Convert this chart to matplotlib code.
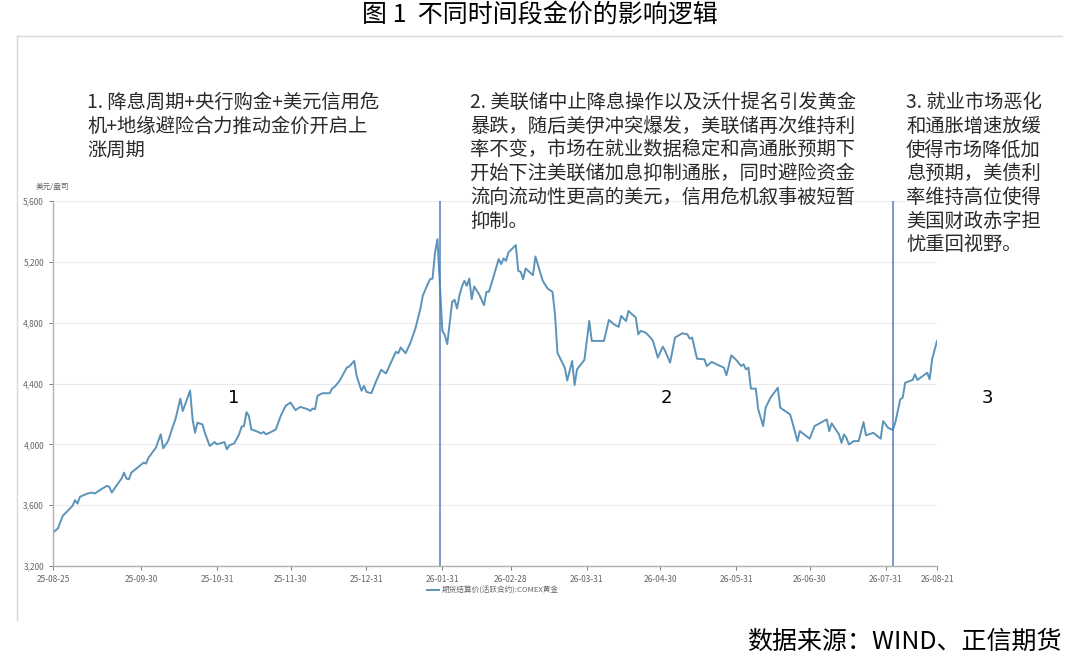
import matplotlib
matplotlib.use("Agg")
import matplotlib.pyplot as plt
import matplotlib.dates as mdates
from matplotlib.lines import Line2D
from matplotlib.ticker import FuncFormatter
import pandas as pd

plt.rcParams["font.family"] = ["Noto Sans CJK SC", "DejaVu Sans"]

TITLE = "图 1  不同时间段金价的影响逻辑"
SOURCE = "数据来源：WIND、正信期货"
SERIES_NAME = "期货结算价(活跃合约):COMEX黄金"
UNIT = "美元/盎司"

NOTE_1 = "1. 降息周期+央行购金+美元信用危\n机+地缘避险合力推动金价开启上\n涨周期"
NOTE_2 = ("2. 美联储中止降息操作以及沃什提名引发黄金\n"
          "暴跌，随后美伊冲突爆发，美联储再次维持利\n"
          "率不变，市场在就业数据稳定和高通胀预期下\n"
          "开始下注美联储加息抑制通胀，同时避险资金\n"
          "流向流动性更高的美元，信用危机叙事被短暂\n"
          "抑制。")
NOTE_3 = ("3. 就业市场恶化\n和通胀增速放缓\n使得市场降低加\n息预期，美债利\n"
          "率维持高位使得\n美国财政赤字担\n忧重回视野。")

# COMEX gold settlement
DATES = [
    "2025-08-25", "2025-08-27", "2025-08-29", "2025-08-31", "2025-09-02", "2025-09-03",
    "2025-09-04", "2025-09-05", "2025-09-08", "2025-09-10", "2025-09-11", "2025-09-13",
    "2025-09-16", "2025-09-17", "2025-09-18", "2025-09-20", "2025-09-22", "2025-09-23",
    "2025-09-24", "2025-09-25", "2025-09-26", "2025-09-28", "2025-10-01", "2025-10-02",
    "2025-10-03", "2025-10-06", "2025-10-08", "2025-10-09", "2025-10-11", "2025-10-13",
    "2025-10-14", "2025-10-16", "2025-10-17", "2025-10-20", "2025-10-21", "2025-10-22",
    "2025-10-23", "2025-10-25", "2025-10-26", "2025-10-28", "2025-10-30", "2025-10-31",
    "2025-11-03", "2025-11-04", "2025-11-05", "2025-11-07", "2025-11-09", "2025-11-10",
    "2025-11-11", "2025-11-12", "2025-11-13", "2025-11-14", "2025-11-16", "2025-11-18",
    "2025-11-19", "2025-11-20", "2025-11-22", "2025-11-24", "2025-11-26", "2025-11-28",
    "2025-11-30", "2025-12-02", "2025-12-04", "2025-12-07", "2025-12-08", "2025-12-09",
    "2025-12-10", "2025-12-11", "2025-12-13", "2025-12-16", "2025-12-17", "2025-12-18",
    "2025-12-20", "2025-12-23", "2025-12-24", "2025-12-26", "2025-12-27", "2025-12-29",
    "2025-12-30", "2025-12-31", "2026-01-02", "2026-01-04", "2026-01-06", "2026-01-08",
    "2026-01-10", "2026-01-12", "2026-01-13", "2026-01-14", "2026-01-16", "2026-01-18",
    "2026-01-20", "2026-01-22", "2026-01-23", "2026-01-25", "2026-01-26", "2026-01-27",
    "2026-01-28", "2026-01-29", "2026-01-31", "2026-02-01", "2026-02-02", "2026-02-04",
    "2026-02-05", "2026-02-06", "2026-02-07", "2026-02-08", "2026-02-09", "2026-02-10",
    "2026-02-11", "2026-02-12", "2026-02-13", "2026-02-15", "2026-02-17", "2026-02-18",
    "2026-02-19", "2026-02-21", "2026-02-23", "2026-02-24", "2026-02-25", "2026-02-26",
    "2026-02-27", "2026-03-02", "2026-03-03", "2026-03-04", "2026-03-05", "2026-03-06",
    "2026-03-09", "2026-03-10", "2026-03-13", "2026-03-15", "2026-03-17", "2026-03-18",
    "2026-03-19", "2026-03-22", "2026-03-23", "2026-03-25", "2026-03-26", "2026-03-27",
    "2026-03-30", "2026-04-01", "2026-04-02", "2026-04-07", "2026-04-09", "2026-04-11",
    "2026-04-13", "2026-04-14", "2026-04-16", "2026-04-17", "2026-04-20", "2026-04-21",
    "2026-04-22", "2026-04-24", "2026-04-26", "2026-04-27", "2026-04-29", "2026-05-01",
    "2026-05-02", "2026-05-04", "2026-05-06", "2026-05-09", "2026-05-11", "2026-05-12",
    "2026-05-13", "2026-05-15", "2026-05-18", "2026-05-19", "2026-05-21", "2026-05-23",
    "2026-05-26", "2026-05-27", "2026-05-29", "2026-05-31", "2026-06-02", "2026-06-03",
    "2026-06-04", "2026-06-05", "2026-06-06", "2026-06-08", "2026-06-09", "2026-06-11",
    "2026-06-12", "2026-06-14", "2026-06-16", "2026-06-17", "2026-06-18", "2026-06-22",
    "2026-06-23", "2026-06-25", "2026-06-26", "2026-06-30", "2026-07-02", "2026-07-07",
    "2026-07-08", "2026-07-09", "2026-07-12", "2026-07-13", "2026-07-14", "2026-07-15",
    "2026-07-16", "2026-07-18", "2026-07-20", "2026-07-22", "2026-07-23", "2026-07-26",
    "2026-07-29", "2026-07-30", "2026-08-01", "2026-08-03", "2026-08-04", "2026-08-06",
    "2026-08-07", "2026-08-08", "2026-08-11", "2026-08-12", "2026-08-13", "2026-08-17",
    "2026-08-18", "2026-08-19", "2026-08-21",
]
PRICES = [
    3420, 3447, 3530, 3563, 3596, 3633,
    3611, 3655, 3676, 3683, 3676, 3698,
    3727, 3720, 3683, 3731, 3775, 3814,
    3775, 3770, 3814, 3840, 3880, 3873,
    3912, 3978, 4066, 3974, 4022, 4120,
    4164, 4300, 4219, 4354, 4164, 4076,
    4142, 4131, 4076, 3989, 4015, 4000,
    4015, 3967, 3993, 4006, 4066, 4116,
    4120, 4212, 4186, 4098, 4087, 4072,
    4081, 4066, 4081, 4098, 4187, 4253,
    4275, 4225, 4246, 4231, 4220, 4235,
    4231, 4319, 4336, 4336, 4367, 4378,
    4417, 4505, 4512, 4549, 4450, 4352,
    4385, 4345, 4336, 4417, 4490, 4466,
    4538, 4608, 4599, 4637, 4599, 4670,
    4762, 4889, 4976, 5053, 5086, 5090,
    5261, 5349, 4746, 4718, 4659, 4937,
    4950, 4893, 4981, 5038, 5075, 5042,
    5090, 4954, 5038, 4987, 4915, 5003,
    5003, 5108, 5218, 5185, 5222, 5207,
    5262, 5310, 5141, 5134, 5086, 5156,
    5112, 5235, 5075, 5024, 5002, 4855,
    4602, 4503, 4420, 4548, 4390, 4493,
    4555, 4811, 4680, 4680, 4818, 4790,
    4772, 4844, 4811, 4877, 4833, 4724,
    4746, 4735, 4702, 4680, 4570, 4642,
    4614, 4537, 4702, 4730, 4724, 4695,
    4702, 4563, 4559, 4515, 4542, 4526,
    4504, 4454, 4585, 4555, 4515, 4526,
    4493, 4504, 4366, 4366, 4230, 4120,
    4241, 4307, 4350, 4372, 4241, 4197,
    4142, 4021, 4087, 4037, 4120, 4164,
    4087, 4138, 4065, 4010, 4065, 4043,
    3999, 4021, 4021, 4146, 4059, 4076,
    4037, 4153, 4109, 4094, 4146, 4296,
    4307, 4405, 4423, 4460, 4423, 4471,
    4427, 4559, 4680,
]

X_TICKS = ["2025-08-25", "2025-09-30", "2025-10-31", "2025-11-30", "2025-12-31",
           "2026-01-31", "2026-02-28", "2026-03-31", "2026-04-30", "2026-05-31",
           "2026-06-30", "2026-07-31", "2026-08-21"]
Y_TICKS = [3200, 3600, 4000, 4400, 4800, 5200, 5600]
PHASE_BREAKS = ["2026-01-30", "2026-08-03"]

LINE_COLOR = "#5b93b9"
BREAK_COLOR = "#4f7fc4"
TICK_GRAY = "#666666"

dates = pd.to_datetime(DATES)

fig = plt.figure(figsize=(10.8, 6.63), dpi=100)
ax = fig.add_axes([53 / 1080, 1 - 566 / 663, 884 / 1080, 365 / 663])

line, = ax.plot(dates, PRICES, color=LINE_COLOR, linewidth=1.4)
for d in PHASE_BREAKS:
    ax.axvline(pd.Timestamp(d), color=BREAK_COLOR, linewidth=1.1)

ax.set_xlim(pd.Timestamp("2025-08-25"), pd.Timestamp("2026-08-21"))
ax.set_ylim(3200, 5600)
ax.set_yticks(Y_TICKS)
ax.yaxis.set_major_formatter(FuncFormatter(lambda v, _: f"{v:,.0f}"))
ax.set_xticks(pd.to_datetime(X_TICKS))
ax.xaxis.set_major_formatter(mdates.DateFormatter("%y-%m-%d"))
ax.tick_params(axis="both", labelsize=6, colors=TICK_GRAY, length=3, width=0.6)
ax.grid(True, axis="y", color="#ebebeb", linewidth=0.8)
ax.set_axisbelow(True)
for side in ("top", "right"):
    ax.spines[side].set_visible(False)
for side in ("left", "bottom"):
    ax.spines[side].set_color("#b0b0b0")
    ax.spines[side].set_linewidth(1.0)

fig.text(36 / 1080, 1 - 187 / 663, UNIT, fontsize=5.5, color=TICK_GRAY, va="center")

leg = fig.legend([line], [SERIES_NAME], loc="center", bbox_to_anchor=(493 / 1080, 1 - 591 / 663),
                 frameon=False, fontsize=5.5, handlelength=1.6, handletextpad=0.4)
for t in leg.get_texts():
    t.set_color(TICK_GRAY)

# outer frame
fig.add_artist(Line2D([17 / 1080, 1062 / 1080], [1 - 36 / 663] * 2, color="#d9d9d9", lw=1.0))
fig.add_artist(Line2D([17 / 1080] * 2, [1 - 36 / 663, 1 - 620 / 663], color="#d9d9d9", lw=1.0))

fig.text(0.5, 1 - 16 / 663, TITLE, fontsize=18, ha="center", va="center", color="black")

note_kw = dict(fontsize=13.9, va="top", ha="left", color="#2a2a2a", linespacing=1.17)
fig.text(87 / 1080, 1 - 92 / 663, NOTE_1, **note_kw)
fig.text(470 / 1080, 1 - 92 / 663, NOTE_2, **note_kw)
fig.text(906 / 1080, 1 - 92 / 663, NOTE_3,
         bbox=dict(facecolor="white", edgecolor="none", pad=1), **note_kw)

for label, xp in (("1", 234), ("2", 666), ("3", 987)):
    fig.text(xp / 1080, 1 - 398 / 663, label, fontsize=13, ha="center", va="center",
             color="black", family="DejaVu Sans")

fig.text(1062 / 1080, 1 - 642 / 663, SOURCE, fontsize=18, ha="right", va="center", color="black")

fig.savefig("out.png", dpi=100)
